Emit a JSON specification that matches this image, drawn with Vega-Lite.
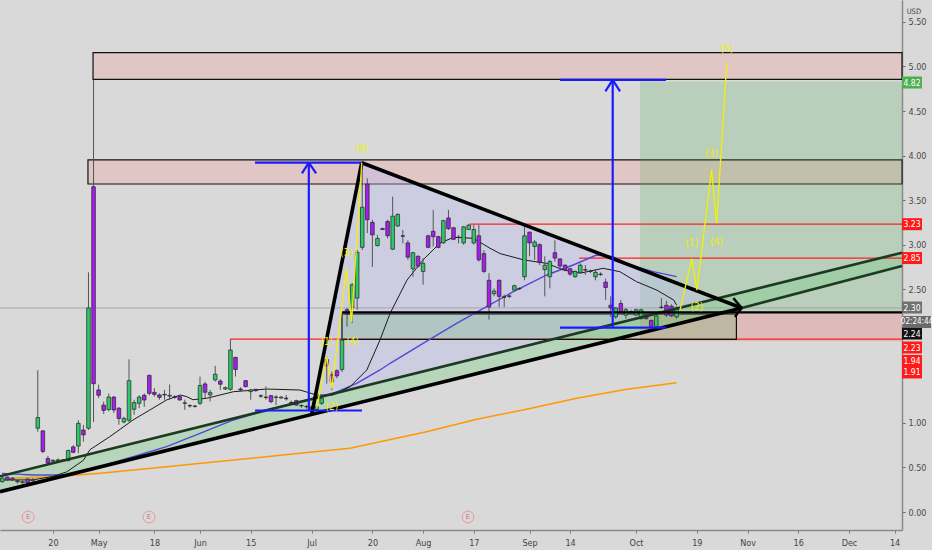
{
  "$schema": "https://vega.github.io/schema/vega-lite/v6.json",
  "width": 902,
  "height": 530,
  "autosize": {"type": "none"},
  "padding": {"left": 0, "top": 0, "right": 30, "bottom": 20},
  "background": "#d9d9d9",
  "config": {
    "view": {"stroke": null},
    "scale": {"continuousPadding": 0},
    "axis": {"labelFont": "DejaVu Sans Condensed", "grid": false}
  },
  "datasets": {
    "candles": [
      {"i":-39,"o":0.34,"h":0.40,"l":0.33,"c":0.38},
      {"i":-38,"o":0.39,"h":0.40,"l":0.35,"c":0.36},
      {"i":-37,"o":0.38,"h":0.39,"l":0.35,"c":0.36},
      {"i":-36,"o":0.35,"h":0.36,"l":0.32,"c":0.34},
      {"i":-35,"o":0.33,"h":0.35,"l":0.32,"c":0.34},
      {"i":-34,"o":0.37,"h":0.38,"l":0.32,"c":0.33},
      {"i":-33,"o":0.35,"h":0.38,"l":0.34,"c":0.36},
      {"i":-32,"o":0.94,"h":1.59,"l":0.90,"c":1.06},
      {"i":-31,"o":0.91,"h":0.92,"l":0.66,"c":0.68},
      {"i":-30,"o":0.60,"h":0.63,"l":0.53,"c":0.55},
      {"i":-29,"o":0.58,"h":0.59,"l":0.56,"c":0.57},
      {"i":-28,"o":0.575,"h":0.60,"l":0.57,"c":0.585},
      {"i":-27,"o":0.585,"h":0.59,"l":0.57,"c":0.575},
      {"i":-26,"o":0.576,"h":0.70,"l":0.57,"c":0.69},
      {"i":-25,"o":0.73,"h":0.75,"l":0.66,"c":0.67},
      {"i":-24,"o":0.74,"h":1.03,"l":0.66,"c":0.995},
      {"i":-23,"o":0.92,"h":0.977,"l":0.79,"c":0.865},
      {"i":-22,"o":0.94,"h":2.69,"l":0.92,"c":2.29},
      {"i":-21,"o":3.65,"h":4.85,"l":1.01,"c":1.44},
      {"i":-20,"o":1.37,"h":1.43,"l":1.28,"c":1.31},
      {"i":-19,"o":1.20,"h":1.24,"l":1.10,"c":1.14},
      {"i":-18,"o":1.15,"h":1.33,"l":1.13,"c":1.29},
      {"i":-17,"o":1.29,"h":1.30,"l":1.11,"c":1.145},
      {"i":-16,"o":1.164,"h":1.18,"l":0.98,"c":1.05},
      {"i":-15,"o":1.01,"h":1.07,"l":0.995,"c":1.05},
      {"i":-14,"o":1.03,"h":1.714,"l":1.01,"c":1.474},
      {"i":-13,"o":1.153,"h":1.26,"l":1.09,"c":1.228},
      {"i":-12,"o":1.22,"h":1.31,"l":1.164,"c":1.29},
      {"i":-11,"o":1.31,"h":1.33,"l":1.18,"c":1.257},
      {"i":-10,"o":1.534,"h":1.54,"l":1.31,"c":1.332},
      {"i":-9,"o":1.343,"h":1.39,"l":1.295,"c":1.32},
      {"i":-8,"o":1.314,"h":1.33,"l":1.26,"c":1.287},
      {"i":-7,"o":1.32,"h":1.37,"l":1.26,"c":1.313},
      {"i":-6,"o":1.30,"h":1.43,"l":1.26,"c":1.31},
      {"i":-5,"o":1.293,"h":1.31,"l":1.27,"c":1.286},
      {"i":-4,"o":1.295,"h":1.31,"l":1.25,"c":1.257},
      {"i":-3,"o":1.225,"h":1.26,"l":1.145,"c":1.22},
      {"i":-2,"o":1.19,"h":1.21,"l":1.17,"c":1.195},
      {"i":-1,"o":1.185,"h":1.20,"l":1.17,"c":1.19},
      {"i":0,"o":1.22,"h":1.52,"l":1.20,"c":1.42},
      {"i":1,"o":1.437,"h":1.46,"l":1.276,"c":1.344},
      {"i":2,"o":1.314,"h":1.37,"l":1.24,"c":1.34},
      {"i":3,"o":1.482,"h":1.64,"l":1.464,"c":1.546},
      {"i":4,"o":1.47,"h":1.49,"l":1.37,"c":1.434},
      {"i":5,"o":1.38,"h":1.41,"l":1.37,"c":1.395},
      {"i":6,"o":1.377,"h":1.94,"l":1.36,"c":1.818},
      {"i":7,"o":1.736,"h":1.74,"l":1.52,"c":1.60},
      {"i":8,"o":1.38,"h":1.40,"l":1.35,"c":1.37},
      {"i":9,"o":1.474,"h":1.48,"l":1.40,"c":1.407},
      {"i":10,"o":1.351,"h":1.38,"l":1.26,"c":1.37},
      {"i":11,"o":1.377,"h":1.38,"l":1.35,"c":1.362},
      {"i":12,"o":1.305,"h":1.32,"l":1.28,"c":1.30},
      {"i":13,"o":1.29,"h":1.41,"l":1.26,"c":1.285},
      {"i":14,"o":1.306,"h":1.31,"l":1.22,"c":1.239},
      {"i":15,"o":1.29,"h":1.31,"l":1.20,"c":1.287},
      {"i":16,"o":1.28,"h":1.30,"l":1.27,"c":1.29},
      {"i":17,"o":1.278,"h":1.314,"l":1.25,"c":1.27},
      {"i":18,"o":1.23,"h":1.25,"l":1.20,"c":1.225},
      {"i":19,"o":1.25,"h":1.26,"l":1.19,"c":1.20},
      {"i":20,"o":1.19,"h":1.21,"l":1.17,"c":1.195},
      {"i":21,"o":1.18,"h":1.20,"l":1.16,"c":1.185},
      {"i":22,"o":1.18,"h":1.19,"l":1.13,"c":1.16},
      {"i":23,"o":1.15,"h":1.19,"l":1.13,"c":1.18},
      {"i":24,"o":1.22,"h":1.30,"l":1.20,"c":1.275},
      {"i":25,"o":1.71,"h":1.745,"l":1.44,"c":1.64},
      {"i":26,"o":1.54,"h":1.575,"l":1.37,"c":1.46},
      {"i":27,"o":1.586,"h":1.60,"l":1.50,"c":1.527},
      {"i":28,"o":1.60,"h":1.95,"l":1.57,"c":1.93},
      {"i":29,"o":2.27,"h":2.29,"l":2.08,"c":2.22},
      {"i":30,"o":2.29,"h":2.57,"l":2.12,"c":2.55},
      {"i":31,"o":2.40,"h":2.94,"l":2.27,"c":2.915},
      {"i":32,"o":2.97,"h":3.92,"l":2.94,"c":3.42},
      {"i":33,"o":3.68,"h":3.745,"l":3.13,"c":3.28},
      {"i":34,"o":3.25,"h":3.28,"l":2.75,"c":3.11},
      {"i":35,"o":2.99,"h":3.11,"l":2.98,"c":3.07},
      {"i":36,"o":3.18,"h":3.19,"l":3.165,"c":3.17},
      {"i":37,"o":3.26,"h":3.28,"l":3.07,"c":3.10},
      {"i":38,"o":2.95,"h":3.54,"l":2.94,"c":3.32},
      {"i":39,"o":3.21,"h":3.35,"l":3.20,"c":3.34},
      {"i":40,"o":3.10,"h":3.165,"l":3.015,"c":3.095},
      {"i":41,"o":3.02,"h":3.05,"l":2.83,"c":2.86},
      {"i":42,"o":2.73,"h":2.92,"l":2.64,"c":2.91},
      {"i":43,"o":2.87,"h":2.88,"l":2.74,"c":2.76},
      {"i":44,"o":2.70,"h":2.85,"l":2.55,"c":2.79},
      {"i":45,"o":3.10,"h":3.11,"l":2.96,"c":2.97},
      {"i":46,"o":3.15,"h":3.39,"l":2.98,"c":3.09},
      {"i":47,"o":3.09,"h":3.10,"l":2.96,"c":2.97},
      {"i":48,"o":3.02,"h":3.28,"l":3.01,"c":3.27},
      {"i":49,"o":3.30,"h":3.39,"l":3.165,"c":3.18},
      {"i":50,"o":3.19,"h":3.20,"l":3.05,"c":3.06},
      {"i":51,"o":3.085,"h":3.11,"l":3.015,"c":3.08},
      {"i":52,"o":3.02,"h":3.21,"l":3.00,"c":3.20},
      {"i":53,"o":3.17,"h":3.23,"l":3.165,"c":3.22},
      {"i":54,"o":3.02,"h":3.22,"l":3.00,"c":3.17},
      {"i":55,"o":3.10,"h":3.22,"l":2.81,"c":2.83},
      {"i":56,"o":2.90,"h":2.94,"l":2.68,"c":2.70},
      {"i":57,"o":2.60,"h":2.68,"l":2.16,"c":2.30},
      {"i":58,"o":2.45,"h":2.51,"l":2.42,"c":2.48},
      {"i":59,"o":2.60,"h":2.61,"l":2.30,"c":2.42},
      {"i":60,"o":2.415,"h":2.44,"l":2.30,"c":2.41},
      {"i":61,"o":2.42,"h":2.44,"l":2.40,"c":2.425},
      {"i":62,"o":2.49,"h":2.55,"l":2.48,"c":2.54},
      {"i":63,"o":2.51,"h":2.52,"l":2.49,"c":2.505},
      {"i":64,"o":2.64,"h":3.20,"l":2.60,"c":3.10},
      {"i":65,"o":3.14,"h":3.15,"l":2.87,"c":3.02},
      {"i":66,"o":2.98,"h":3.05,"l":2.83,"c":3.03},
      {"i":67,"o":3.00,"h":3.015,"l":2.77,"c":2.80},
      {"i":68,"o":2.72,"h":2.87,"l":2.42,"c":2.77},
      {"i":69,"o":2.64,"h":2.83,"l":2.51,"c":2.81},
      {"i":70,"o":2.91,"h":3.05,"l":2.81,"c":2.85},
      {"i":71,"o":2.84,"h":2.85,"l":2.74,"c":2.76},
      {"i":72,"o":2.77,"h":2.78,"l":2.70,"c":2.72},
      {"i":73,"o":2.73,"h":2.74,"l":2.65,"c":2.67},
      {"i":74,"o":2.64,"h":2.71,"l":2.63,"c":2.70},
      {"i":75,"o":2.69,"h":2.79,"l":2.68,"c":2.77},
      {"i":76,"o":2.72,"h":2.77,"l":2.66,"c":2.715},
      {"i":77,"o":2.70,"h":2.72,"l":2.68,"c":2.705},
      {"i":78,"o":2.64,"h":2.72,"l":2.60,"c":2.69},
      {"i":79,"o":2.67,"h":2.69,"l":2.65,"c":2.665},
      {"i":80,"o":2.58,"h":2.62,"l":2.38,"c":2.52},
      {"i":81,"o":2.32,"h":2.42,"l":2.19,"c":2.29},
      {"i":82,"o":2.19,"h":2.30,"l":2.17,"c":2.29},
      {"i":83,"o":2.34,"h":2.38,"l":2.23,"c":2.25},
      {"i":84,"o":2.21,"h":2.29,"l":2.17,"c":2.27},
      {"i":85,"o":2.25,"h":2.27,"l":2.22,"c":2.245},
      {"i":86,"o":2.21,"h":2.28,"l":2.20,"c":2.27},
      {"i":87,"o":2.17,"h":2.28,"l":2.16,"c":2.27},
      {"i":88,"o":2.21,"h":2.22,"l":2.16,"c":2.17},
      {"i":89,"o":2.15,"h":2.16,"l":2.07,"c":2.08},
      {"i":90,"o":2.08,"h":2.21,"l":2.07,"c":2.20},
      {"i":91,"o":2.30,"h":2.40,"l":2.28,"c":2.295},
      {"i":92,"o":2.32,"h":2.37,"l":2.19,"c":2.21},
      {"i":93,"o":2.31,"h":2.33,"l":2.19,"c":2.20},
      {"i":94,"o":2.19,"h":2.31,"l":2.17,"c":2.29}
    ],
    "ma": [
      {"s":"m20","i":-39.4,"p":0.36},{"s":"m20","i":-33,"p":0.36},{"s":"m20","i":-29,"p":0.40},{"s":"m20","i":-26.3,"p":0.45},{"s":"m20","i":-23,"p":0.58},{"s":"m20","i":-21.7,"p":0.70},{"s":"m20","i":-17.8,"p":0.845},{"s":"m20","i":-13.2,"p":1.033},{"s":"m20","i":-9.9,"p":1.145},{"s":"m20","i":-6.6,"p":1.257},{"s":"m20","i":-3.9,"p":1.313},{"s":"m20","i":-2.6,"p":1.294},{"s":"m20","i":-1.4,"p":1.26},{"s":"m20","i":1.3,"p":1.276},{"s":"m20","i":6.6,"p":1.35},{"s":"m20","i":13.2,"p":1.38},{"s":"m20","i":19.7,"p":1.369},{"s":"m20","i":23,"p":1.313},{"s":"m20","i":26.2,"p":1.313},{"s":"m20","i":29.6,"p":1.406},{"s":"m20","i":32.9,"p":1.594},{"s":"m20","i":35.5,"p":1.93},{"s":"m20","i":37.5,"p":2.23},{"s":"m20","i":40.8,"p":2.60},{"s":"m20","i":44,"p":2.83},{"s":"m20","i":47.3,"p":3.016},{"s":"m20","i":50,"p":3.083},{"s":"m20","i":53.9,"p":3.072},{"s":"m20","i":57.2,"p":2.96},{"s":"m20","i":59.2,"p":2.90},{"s":"m20","i":63.8,"p":2.83},{"s":"m20","i":68.4,"p":2.79},{"s":"m20","i":71.7,"p":2.716},{"s":"m20","i":75,"p":2.68},{"s":"m20","i":79.5,"p":2.735},{"s":"m20","i":82.8,"p":2.697},{"s":"m20","i":86.1,"p":2.585},{"s":"m20","i":90.1,"p":2.49},{"s":"m20","i":93.4,"p":2.38},{"s":"m20","i":94,"p":2.323},
      {"s":"m50","i":-39.1,"p":0.434},{"s":"m50","i":-32.9,"p":0.415},{"s":"m50","i":-26.3,"p":0.415},{"s":"m50","i":-19.7,"p":0.508},{"s":"m50","i":-13.2,"p":0.62},{"s":"m50","i":-6.6,"p":0.733},{"s":"m50","i":0,"p":0.883},{"s":"m50","i":6.6,"p":1.033},{"s":"m50","i":13.2,"p":1.145},{"s":"m50","i":19.7,"p":1.238},{"s":"m50","i":26.3,"p":1.332},{"s":"m50","i":30.9,"p":1.444},{"s":"m50","i":35.5,"p":1.594},{"s":"m50","i":37.5,"p":1.669},{"s":"m50","i":44,"p":1.893},{"s":"m50","i":50.6,"p":2.118},{"s":"m50","i":55.9,"p":2.286},{"s":"m50","i":61.8,"p":2.473},{"s":"m50","i":68.4,"p":2.66},{"s":"m50","i":73.6,"p":2.772},{"s":"m50","i":78.2,"p":2.884},{"s":"m50","i":81.5,"p":2.865},{"s":"m50","i":84.8,"p":2.772},{"s":"m50","i":89.4,"p":2.697},{"s":"m50","i":94,"p":2.641},
      {"s":"m200","i":-37,"p":0.38},{"s":"m200","i":-28.3,"p":0.396},{"s":"m200","i":-19.7,"p":0.434},{"s":"m200","i":-6.6,"p":0.508},{"s":"m200","i":6.6,"p":0.584},{"s":"m200","i":19.7,"p":0.659},{"s":"m200","i":29.6,"p":0.715},{"s":"m200","i":35.5,"p":0.789},{"s":"m200","i":44.7,"p":0.901},{"s":"m200","i":54.6,"p":1.04},{"s":"m200","i":64.4,"p":1.153},{"s":"m200","i":74.3,"p":1.276},{"s":"m200","i":84.2,"p":1.377},{"s":"m200","i":94,"p":1.451}
    ],
    "zones": [
      {"k":"pinkrect","i":-21.1,"i2":138.46,"p":4.855,"p2":5.155},
      {"k":"pinkrect","i":-22.1,"i2":138.46,"p":3.681,"p2":3.951},
      {"k":"long","i":86.8,"i2":138.46,"p":2.24,"p2":4.83},
      {"k":"stop","i":86.8,"i2":138.46,"p":1.915,"p2":2.24},
      {"k":"box","i":28.0,"i2":105.8,"p":1.938,"p2":2.222}
    ],
    "chan": [
      {"i":-39.45,"p":0.40,"p2":0.228},
      {"i":106.85,"p":2.464,"p2":2.29},
      {"i":138.46,"p":2.91,"p2":2.76}
    ],
    "tri": [
      {"i":22.65,"p":1.276,"p2":1.276},
      {"i":31.9,"p":3.92,"p2":1.407},
      {"i":101.98,"p":2.396,"p2":2.396}
    ],
    "segs": [
      {"k":"gray","i":-39.45,"p":2.29,"i2":138.46,"p2":2.29},
      {"k":"red","i":53.2,"p":3.23,"i2":138.46,"p2":3.23},
      {"k":"red","i":74.8,"p":2.85,"i2":138.46,"p2":2.85},
      {"k":"red","i":5.9,"p":1.94,"i2":138.46,"p2":1.94},
      {"k":"thick","i":-39.45,"p":0.228,"i2":106.85,"p2":2.29},
      {"k":"thick","i":22.0,"p":1.09,"i2":31.9,"p2":3.92},
      {"k":"thick","i":31.9,"p":3.92,"i2":106.85,"p2":2.29},
      {"k":"dgreen","i":-39.45,"p":0.40,"i2":138.46,"p2":2.91},
      {"k":"dgreen","i":106.85,"p":2.29,"i2":138.46,"p2":2.76},
      {"k":"black2","i":28.0,"p":2.24,"i2":138.46,"p2":2.24},
      {"k":"arrow","i":105.2,"p":2.40,"i2":106.85,"p2":2.29},
      {"k":"arrow","i":105.5,"p":2.19,"i2":106.85,"p2":2.29},
      {"k":"blue","i":10.85,"p":3.92,"i2":31.95,"p2":3.92},
      {"k":"blue","i":21.46,"p":1.139,"i2":21.46,"p2":3.92},
      {"k":"blue","i":10.85,"p":1.139,"i2":31.95,"p2":1.139},
      {"k":"blue","i":20.1,"p":3.80,"i2":21.46,"p2":3.92},
      {"k":"blue","i":21.46,"p":3.92,"i2":22.9,"p2":3.80},
      {"k":"blue","i":71.0,"p":4.85,"i2":91.9,"p2":4.85},
      {"k":"blue","i":81.4,"p":2.07,"i2":81.4,"p2":4.85},
      {"k":"blue","i":71.0,"p":2.07,"i2":91.9,"p2":2.07},
      {"k":"blue","i":79.95,"p":4.72,"i2":81.4,"p2":4.85},
      {"k":"blue","i":81.4,"p":4.85,"i2":82.85,"p2":4.72}
    ],
    "waves": [
      {"w":"past","n":0,"i":23.0,"p":1.164},{"w":"past","n":1,"i":25.0,"p":1.743},{"w":"past","n":2,"i":26.0,"p":1.388},{"w":"past","n":3,"i":28.9,"p":2.735},{"w":"past","n":4,"i":29.9,"p":2.136},{"w":"past","n":5,"i":31.9,"p":3.92},
      {"w":"next","n":0,"i":94.7,"p":2.27},{"w":"next","n":1,"i":97.0,"p":2.84},{"w":"next","n":2,"i":98.0,"p":2.49},{"w":"next","n":3,"i":100.9,"p":3.84},{"w":"next","n":4,"i":101.9,"p":3.24},{"w":"next","n":5,"i":103.9,"p":5.04}
    ],
    "wlabels": [
      {"t":"(1)","i":25.0,"p":1.911},{"t":"(2)","i":26.0,"p":1.182},{"t":"(3)","i":28.9,"p":2.907},{"t":"(4)","i":30.1,"p":1.911},{"t":"(5)","i":31.9,"p":4.074},
      {"t":"(1)","i":97.0,"p":3.016},{"t":"(2)","i":98.0,"p":2.304},{"t":"(3)","i":100.9,"p":4.018},{"t":"(4)","i":101.9,"p":3.035},{"t":"(5)","i":103.9,"p":5.193}
    ],
    "earn": [
      {"t":"E","i":-33.9,"p":-0.056},{"t":"E","i":-10.06,"p":-0.056},{"t":"E","i":52.86,"p":-0.056}
    ],
    "tags": [
      {"t":"4.82","k":"g","p":4.82},
      {"t":"3.23","k":"r","p":3.23},
      {"t":"2.85","k":"r","p":2.85},
      {"t":"2.30","k":"gr","p":2.295},
      {"t":"2.24","k":"b","p":2.003},
      {"t":"2.23","k":"r","p":1.846},
      {"t":"1.94","k":"r","p":1.695},
      {"t":"1.91","k":"r","p":1.566}
    ],
    "timer": [{"t":"02:24:44","p":2.132}],
    "unit": [{"t":"USD","p":5.61}]
  },
  "layer": [
    {
      "data": {"name": "zones"},
      "transform": [{"filter": "datum.k == 'pinkrect'"}],
      "mark": {"type": "rect", "fill": "#f4a0a0", "fillOpacity": 0.32, "stroke": "#111111", "strokeWidth": 1.2},
      "encoding": {
        "x": {"field": "i", "type": "quantitative", "scale": {"domain": [-39.45, 138.46], "nice": false, "zero": false, "padding": 0},
          "axis": {"values": [-29,-20,-9,0,10,22,34,44,54,65,73,86,98,108,118,128,137],
            "labelExpr": "['20','May','18','Jun','15','Jul','20','Aug','17','Sep','14','Oct','19','Nov','16','Dec','14'][indexof([-29,-20,-9,0,10,22,34,44,54,65,73,86,98,108,118,128,137], datum.value)]",
            "labelFontSize": 9, "labelColor": "#444444", "tickSize": 3, "tickColor": "#777777", "domainColor": "#8a8a8a", "domainWidth": 1.5, "labelPadding": 5, "labelFlush": false, "title": null}},
        "x2": {"field": "i2"},
        "y": {"field": "p", "type": "quantitative", "scale": {"domain": [-0.202, 5.746], "nice": false, "zero": false, "padding": 0},
          "axis": {"orient": "right", "values": [0,0.5,1,2.5,3,3.5,4,4.5,5,5.5], "format": ".2f", "labelFontSize": 9, "labelColor": "#4a4a4a", "tickSize": 3, "tickColor": "#666666", "domainColor": "#8a8a8a", "domainWidth": 1.5, "labelPadding": 3, "title": null}},
        "y2": {"field": "p2"}
      }
    },
    {
      "data": {"name": "zones"},
      "transform": [{"filter": "datum.k == 'long'"}],
      "mark": {"type": "rect", "fill": "#4caf50", "fillOpacity": 0.22},
      "encoding": {
        "x": {"field": "i", "type": "quantitative"}, "x2": {"field": "i2"},
        "y": {"field": "p", "type": "quantitative"}, "y2": {"field": "p2"}
      }
    },
    {
      "data": {"name": "zones"},
      "transform": [{"filter": "datum.k == 'stop'"}],
      "mark": {"type": "rect", "fill": "#f44336", "fillOpacity": 0.2},
      "encoding": {
        "x": {"field": "i", "type": "quantitative"}, "x2": {"field": "i2"},
        "y": {"field": "p", "type": "quantitative"}, "y2": {"field": "p2"}
      }
    },
    {
      "data": {"name": "chan"},
      "mark": {"type": "area", "fill": "#66cc77", "fillOpacity": 0.3},
      "encoding": {
        "x": {"field": "i", "type": "quantitative"},
        "y": {"field": "p", "type": "quantitative"}, "y2": {"field": "p2"}
      }
    },
    {
      "data": {"name": "tri"},
      "mark": {"type": "area", "fill": "#b8b8f4", "fillOpacity": 0.35},
      "encoding": {
        "x": {"field": "i", "type": "quantitative"},
        "y": {"field": "p", "type": "quantitative"}, "y2": {"field": "p2"}
      }
    },
    {
      "data": {"name": "segs"},
      "transform": [{"filter": "datum.k == 'red'"}],
      "mark": {"type": "rule", "color": "#ff2020", "strokeWidth": 1.2},
      "encoding": {
        "x": {"field": "i", "type": "quantitative"}, "x2": {"field": "i2"},
        "y": {"field": "p", "type": "quantitative"}, "y2": {"field": "p2"}
      }
    },
    {
      "data": {"name": "zones"},
      "transform": [{"filter": "datum.k == 'box'"}],
      "mark": {"type": "rect", "fill": "#4caf50", "fillOpacity": 0.22, "stroke": "#111111", "strokeWidth": 1.2},
      "encoding": {
        "x": {"field": "i", "type": "quantitative"}, "x2": {"field": "i2"},
        "y": {"field": "p", "type": "quantitative"}, "y2": {"field": "p2"}
      }
    },
    {
      "data": {"name": "segs"},
      "transform": [{"filter": "datum.k == 'gray'"}],
      "mark": {"type": "rule", "color": "#9a9a9a", "strokeWidth": 0.8},
      "encoding": {
        "x": {"field": "i", "type": "quantitative"}, "x2": {"field": "i2"},
        "y": {"field": "p", "type": "quantitative"}, "y2": {"field": "p2"}
      }
    },
    {
      "data": {"name": "ma"},
      "transform": [{"filter": "datum.s == 'm200'"}],
      "mark": {"type": "line", "color": "#ff9800", "strokeWidth": 1.5},
      "encoding": {
        "x": {"field": "i", "type": "quantitative"},
        "y": {"field": "p", "type": "quantitative"}
      }
    },
    {
      "data": {"name": "ma"},
      "transform": [{"filter": "datum.s == 'm50'"}],
      "mark": {"type": "line", "color": "#5546d6", "strokeWidth": 1.4},
      "encoding": {
        "x": {"field": "i", "type": "quantitative"},
        "y": {"field": "p", "type": "quantitative"}
      }
    },
    {
      "data": {"name": "ma"},
      "transform": [{"filter": "datum.s == 'm20'"}],
      "mark": {"type": "line", "color": "#1a1a1a", "strokeWidth": 1},
      "encoding": {
        "x": {"field": "i", "type": "quantitative"},
        "y": {"field": "p", "type": "quantitative"}
      }
    },
    {
      "data": {"name": "candles"},
      "mark": {"type": "rule", "color": "#555555", "strokeWidth": 1},
      "encoding": {
        "x": {"field": "i", "type": "quantitative"},
        "y": {"field": "l", "type": "quantitative"}, "y2": {"field": "h"}
      }
    },
    {
      "data": {"name": "candles"},
      "mark": {"type": "bar", "size": 3.6, "stroke": "#222222", "strokeWidth": 0.7},
      "encoding": {
        "x": {"field": "i", "type": "quantitative"},
        "y": {"field": "o", "type": "quantitative"}, "y2": {"field": "c"},
        "fill": {"condition": {"test": "datum.c >= datum.o", "value": "#2ec86a"}, "value": "#a51ff0"}
      }
    },
    {
      "data": {"name": "segs"},
      "transform": [{"filter": "datum.k == 'dgreen'"}],
      "mark": {"type": "rule", "color": "#1c3a21", "strokeWidth": 2.6},
      "encoding": {
        "x": {"field": "i", "type": "quantitative"}, "x2": {"field": "i2"},
        "y": {"field": "p", "type": "quantitative"}, "y2": {"field": "p2"}
      }
    },
    {
      "data": {"name": "segs"},
      "transform": [{"filter": "datum.k == 'thick'"}],
      "mark": {"type": "rule", "color": "#000000", "strokeWidth": 3.6},
      "encoding": {
        "x": {"field": "i", "type": "quantitative"}, "x2": {"field": "i2"},
        "y": {"field": "p", "type": "quantitative"}, "y2": {"field": "p2"}
      }
    },
    {
      "data": {"name": "segs"},
      "transform": [{"filter": "datum.k == 'black2' || datum.k == 'arrow'"}],
      "mark": {"type": "rule", "color": "#000000", "strokeWidth": 2.4},
      "encoding": {
        "x": {"field": "i", "type": "quantitative"}, "x2": {"field": "i2"},
        "y": {"field": "p", "type": "quantitative"}, "y2": {"field": "p2"}
      }
    },
    {
      "data": {"name": "segs"},
      "transform": [{"filter": "datum.k == 'blue'"}],
      "mark": {"type": "rule", "color": "#1a1aff", "strokeWidth": 2.2},
      "encoding": {
        "x": {"field": "i", "type": "quantitative"}, "x2": {"field": "i2"},
        "y": {"field": "p", "type": "quantitative"}, "y2": {"field": "p2"}
      }
    },
    {
      "data": {"name": "waves"},
      "mark": {"type": "line", "color": "#f2f200", "strokeWidth": 1.3},
      "encoding": {
        "x": {"field": "i", "type": "quantitative"},
        "y": {"field": "p", "type": "quantitative"},
        "detail": {"field": "w"},
        "order": {"field": "n"}
      }
    },
    {
      "data": {"name": "wlabels"},
      "mark": {"type": "text", "color": "#eeee00", "fontSize": 10, "font": "DejaVu Sans Condensed"},
      "encoding": {
        "x": {"field": "i", "type": "quantitative"},
        "y": {"field": "p", "type": "quantitative"},
        "text": {"field": "t"}
      }
    },
    {
      "data": {"name": "earn"},
      "mark": {"type": "point", "shape": "circle", "size": 140, "filled": false, "stroke": "#e57f8a", "strokeWidth": 1},
      "encoding": {
        "x": {"field": "i", "type": "quantitative"},
        "y": {"field": "p", "type": "quantitative"}
      }
    },
    {
      "data": {"name": "earn"},
      "mark": {"type": "text", "color": "#e06a78", "fontSize": 7, "font": "DejaVu Sans"},
      "encoding": {
        "x": {"field": "i", "type": "quantitative"},
        "y": {"field": "p", "type": "quantitative"},
        "text": {"field": "t"}
      }
    },
    {
      "data": {"name": "tags"},
      "mark": {"type": "rect", "width": 20, "height": 12},
      "encoding": {
        "x": {"datum": 140.43, "type": "quantitative"},
        "y": {"field": "p", "type": "quantitative"},
        "fill": {"field": "k", "type": "nominal", "legend": null,
          "scale": {"domain": ["g","r","gr","b"], "range": ["#4caf50","#ff1a1a","#707070","#111111"]}}
      }
    },
    {
      "data": {"name": "timer"},
      "mark": {"type": "rect", "width": 28, "height": 12, "fill": "#6a6a6a"},
      "encoding": {
        "x": {"datum": 141.42, "type": "quantitative"},
        "y": {"field": "p", "type": "quantitative"}
      }
    },
    {
      "data": {"name": "tags"},
      "mark": {"type": "text", "color": "#ffffff", "fontSize": 8.5, "font": "DejaVu Sans Condensed"},
      "encoding": {
        "x": {"datum": 140.43, "type": "quantitative"},
        "y": {"field": "p", "type": "quantitative"},
        "text": {"field": "t"}
      }
    },
    {
      "data": {"name": "timer"},
      "mark": {"type": "text", "color": "#ffffff", "fontSize": 8, "font": "DejaVu Sans Condensed"},
      "encoding": {
        "x": {"datum": 141.42, "type": "quantitative"},
        "y": {"field": "p", "type": "quantitative"},
        "text": {"field": "t"}
      }
    },
    {
      "data": {"name": "unit"},
      "mark": {"type": "text", "color": "#444444", "fontSize": 7.5, "font": "DejaVu Sans Condensed"},
      "encoding": {
        "x": {"datum": 140.8, "type": "quantitative"},
        "y": {"field": "p", "type": "quantitative"},
        "text": {"field": "t"}
      }
    }
  ]
}
